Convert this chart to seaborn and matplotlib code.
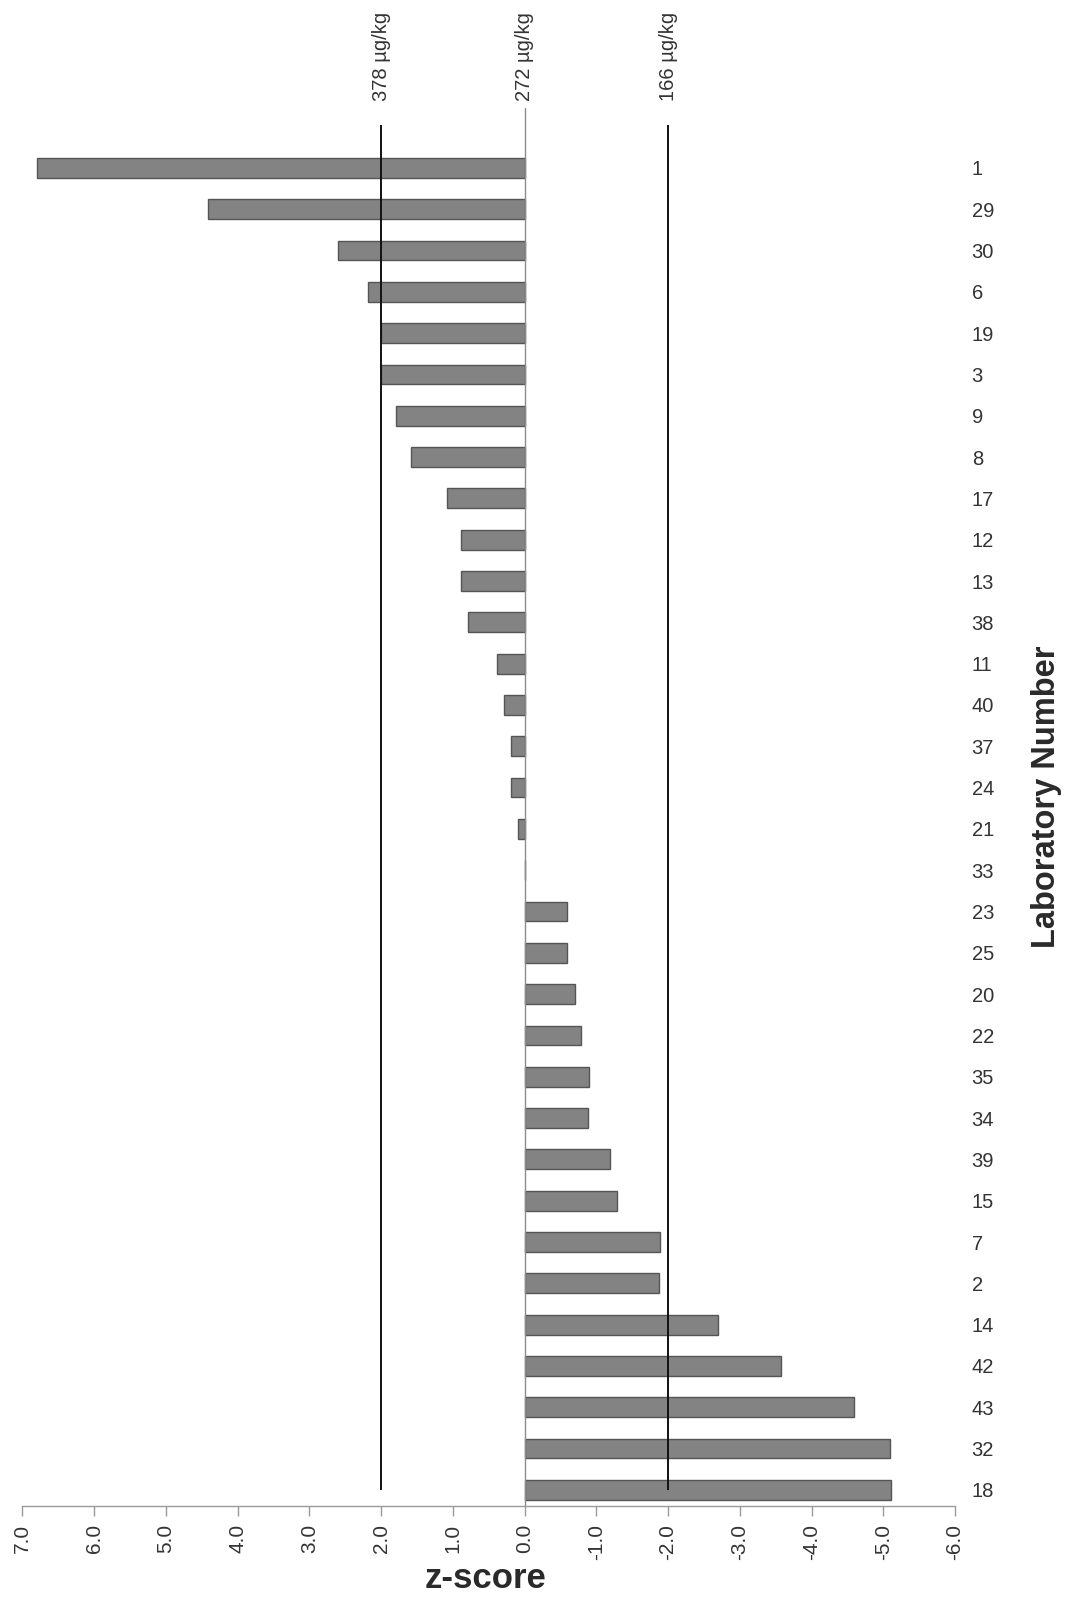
import matplotlib
matplotlib.use("Agg")
import matplotlib.pyplot as plt
import seaborn as sns
import pandas as pd
import numpy as np

# Laboratory numbers, top to bottom
labs = ["1", "29", "30", "6", "19", "3", "9", "8", "17", "12", "13", "38", "11",
        "40", "37", "24", "21", "33", "23", "25", "20", "22", "35", "34", "39",
        "15", "7", "2", "14", "42", "43", "32", "18"]

# z-score of each laboratory
z_scores = [6.79, 4.41, 2.60, 2.18, 2.00, 2.00, 1.79, 1.59, 1.08, 0.88, 0.89,
            0.79, 0.39, 0.28, 0.19, 0.19, 0.09, 0.0, -0.59, -0.59, -0.70, -0.79,
            -0.90, -0.89, -1.19, -1.29, -1.89, -1.88, -2.69, -3.58, -4.59,
            -5.10, -5.11]

# Reference lines (z) and their concentrations
ref_z = [2.0, 0.0, -2.0]
ref_labels = ["378 µg/kg", "272 µg/kg", "166 µg/kg"]

# Value axis ticks
tick_values = [7.0, 6.0, 5.0, 4.0, 3.0, 2.0, 1.0, 0.0, -1.0, -2.0, -3.0, -4.0, -5.0, -6.0]

sns.set_style("white")
plt.rcParams["font.family"] = ["Liberation Sans", "DejaVu Sans"]
plt.rcParams["axes.unicode_minus"] = False

W, H = 1066, 1598
fig = plt.figure(figsize=(W / 100, H / 100), dpi=100)

# axes box in pixels
left_px, right_px = 22.4, 955.0
top_px, bottom_px = 108.0, 1506.0
ax = fig.add_axes([left_px / W, 1 - bottom_px / H,
                   (right_px - left_px) / W, (bottom_px - top_px) / H])

df = pd.DataFrame({"lab": labs, "z": z_scores})
sns.barplot(data=df, x="z", y="lab", order=labs, orient="h", color="#838383",
            saturation=1, width=0.48, edgecolor="#555555", linewidth=1.0,
            errorbar=None, ax=ax)

ax.set_xlim(7.0, -6.0)
ax.set_ylim(32.39, -1.45)

# reference lines
ax.vlines([ref_z[0], ref_z[2]], ymin=-1.04, ymax=len(labs) - 1,
          colors="#111111", linewidth=1.4, zorder=3)
ax.axvline(ref_z[1], color="#8c8c8c", linewidth=1.0, zorder=3)

for v, lab in zip(ref_z, ref_labels):
    ax.annotate(lab, xy=(v, 1.0), xycoords=("data", "axes fraction"),
                xytext=(0, 5), textcoords="offset points", rotation=90,
                ha="center", va="bottom", fontsize=14.5, color="#333333")

# value axis
ax.set_xticks(tick_values)
ax.set_xticklabels([f"{v:.1f}" for v in tick_values])
ax.tick_params(axis="x", which="major", bottom=True, length=7, width=1,
               color="#9a9a9a", labelrotation=90, labelsize=15,
               labelcolor="#333333", pad=6)

# category axis on the right
ax.yaxis.tick_right()
ax.tick_params(axis="y", length=0, labelsize=14.5, labelcolor="#333333", pad=12)
for t in ax.get_yticklabels():
    t.set_horizontalalignment("left")

for side in ["top", "left", "right"]:
    ax.spines[side].set_visible(False)
ax.spines["bottom"].set_color("#9a9a9a")
ax.spines["bottom"].set_linewidth(1.0)

ax.set_xlabel("z-score", fontsize=25, fontweight="bold", color="#2a2a2a",
              ha="center", va="center")
ax.xaxis.set_label_coords((486 - left_px) / (right_px - left_px),
                          (bottom_px - 1579) / (bottom_px - top_px))

ax.yaxis.set_label_position("right")
ax.set_ylabel("Laboratory Number", fontsize=23.5, fontweight="bold",
              color="#2a2a2a", rotation=90, ha="center", va="center")
ax.yaxis.set_label_coords((1046 - left_px) / (right_px - left_px),
                          (bottom_px - 797) / (bottom_px - top_px))

ax.grid(False)
fig.savefig("out.png", dpi=100, facecolor="white")
